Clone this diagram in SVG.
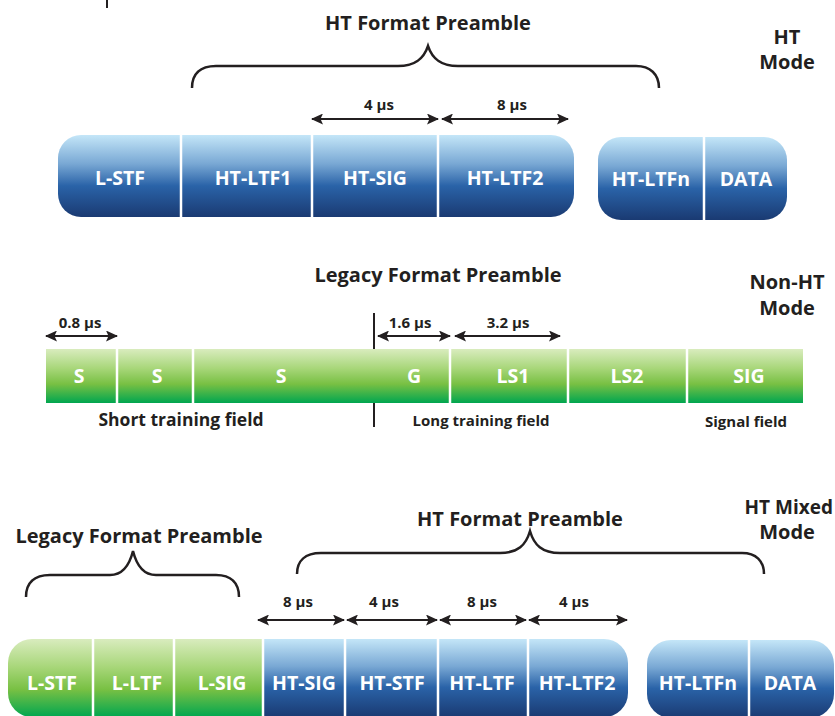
<svg xmlns="http://www.w3.org/2000/svg" width="835" height="716" viewBox="0 0 835 716">
<defs>
<linearGradient id="blue" x1="0" y1="0" x2="0" y2="1">
<stop offset="0" stop-color="#c4e6f8"/>
<stop offset="0.35" stop-color="#79a8d4"/>
<stop offset="0.62" stop-color="#2a63a8"/>
<stop offset="1" stop-color="#1a3a72"/>
</linearGradient>
<linearGradient id="green" x1="0" y1="0" x2="0" y2="1">
<stop offset="0" stop-color="#d9ecbe"/>
<stop offset="0.35" stop-color="#a9d77b"/>
<stop offset="0.65" stop-color="#78c043"/>
<stop offset="1" stop-color="#00a650"/>
</linearGradient>
<marker id="ah" markerWidth="12" markerHeight="11" refX="11" refY="5.5" orient="auto-start-reverse" markerUnits="userSpaceOnUse">
<path d="M0,0 L12,5.5 L0,11 L2.5,5.5 Z" fill="#231f20"/>
</marker>
<style>
text{font-family:"Open Sans","Liberation Sans",Arial,sans-serif;font-weight:700;text-anchor:middle}
.t{fill:#231f20;font-size:20px}
.m{fill:#231f20;font-size:15px}
.w{fill:#ffffff;font-size:19.5px}
.f{fill:#231f20;font-size:15px}
.div{stroke:#ffffff;stroke-width:2.5}
.arr{stroke:#231f20;stroke-width:2;fill:none;marker-start:url(#ah);marker-end:url(#ah)}
.br{stroke:#231f20;stroke-width:2.5;fill:none}
.vl{stroke:#231f20;stroke-width:2}
</style>
</defs>
<line x1="107" y1="0" x2="107" y2="8" class="vl"/>

<!-- HT Mode -->
<text class="t" x="428" y="30">HT Format Preamble</text>
<text class="t" x="787" y="44">HT</text>
<text class="t" x="787" y="69">Mode</text>
<g id="connectors">
<path class="br" d="M192,88 C192,74 200,66 216,66 L398,66 C416,66 424,58 428,46 C432,58 440,66 458,66 L636,66 C650,66 659,74 659,88"/>
<line class="arr" x1="312" y1="119" x2="438" y2="119"/>
<line class="arr" x1="442" y1="119" x2="568" y2="119"/>
<line class="arr" x1="46" y1="336" x2="117" y2="336"/>
<line class="arr" x1="378" y1="336" x2="450" y2="336"/>
<line class="arr" x1="455" y1="336" x2="560" y2="336"/>
<line class="vl" x1="374" y1="313" x2="374" y2="427"/>
<path class="br" d="M26,597 C26,583 34,575 50,575 L110,575 C124,575 130,563 133,551 C136,563 142,575 156,575 L216,575 C231,575 239,583 239,597"/>
<path class="br" d="M297,574 C297,561 305,553 321,553 L500,553 C518,553 526,545 530,531 C534,545 542,553 560,553 L742,553 C756,553 764,561 764,574"/>
<line class="arr" x1="258" y1="620" x2="344" y2="620"/>
<line class="arr" x1="347" y1="620" x2="437" y2="620"/>
<line class="arr" x1="440" y1="620" x2="526" y2="620"/>
<line class="arr" x1="529" y1="620" x2="627" y2="620"/>
</g>
<text class="m" x="379" y="110">4 µs</text>
<text class="m" x="512" y="110">8 µs</text>

<g id="ht-main">
<rect x="58" y="135" width="516" height="82" rx="23" fill="url(#blue)"/>
<line class="div" x1="181" y1="135" x2="181" y2="217"/>
<line class="div" x1="312" y1="135" x2="312" y2="217"/>
<line class="div" x1="438" y1="135" x2="438" y2="217"/>
<text class="w" x="120" y="185">L-STF</text>
<text class="w" x="253" y="185">HT-LTF1</text>
<text class="w" x="375" y="185">HT-SIG</text>
<text class="w" x="505" y="185">HT-LTF2</text>
</g>
<g id="ht-data">
<rect x="598" y="137" width="189" height="83" rx="23" fill="url(#blue)"/>
<line class="div" x1="704" y1="137" x2="704" y2="220"/>
<text class="w" x="651" y="186">HT-LTFn</text>
<text class="w" x="746" y="186">DATA</text>
</g>

<!-- Non-HT Mode -->
<text class="t" x="438" y="282">Legacy Format Preamble</text>
<text class="t" x="787" y="289">Non-HT</text>
<text class="t" x="787" y="315">Mode</text>
<text class="m" x="80" y="328">0.8 µs</text>
<text class="m" x="410" y="328">1.6 µs</text>
<text class="m" x="508" y="328">3.2 µs</text>
<g id="nonht-bar">
<rect x="46" y="349" width="757" height="54" fill="url(#green)"/>
<line class="div" x1="117" y1="349" x2="117" y2="403"/>
<line class="div" x1="193" y1="349" x2="193" y2="403"/>
<line class="div" x1="450" y1="349" x2="450" y2="403"/>
<line class="div" x1="568" y1="349" x2="568" y2="403"/>
<line class="div" x1="687" y1="349" x2="687" y2="403"/>
<text class="w" x="79" y="383">S</text>
<text class="w" x="157" y="383">S</text>
<text class="w" x="281" y="383">S</text>
<text class="w" x="414" y="383">G</text>
<text class="w" x="513" y="383">LS1</text>
<text class="w" x="627" y="383">LS2</text>
<text class="w" x="749" y="383">SIG</text>
</g>
<text class="f" x="181" y="426" style="font-size:17.5px">Short training field</text>
<text class="f" x="481" y="426">Long training field</text>
<text class="f" x="746" y="427">Signal field</text>

<!-- HT Mixed Mode -->
<text class="t" x="139" y="543">Legacy Format Preamble</text>
<text class="t" x="520" y="526">HT Format Preamble</text>
<text class="t" x="833" y="514" style="text-anchor:end;font-size:19px">HT Mixed</text>
<text class="t" x="787" y="539">Mode</text>
<text class="m" x="298" y="607">8 µs</text>
<text class="m" x="384" y="607">4 µs</text>
<text class="m" x="482" y="607">8 µs</text>
<text class="m" x="574" y="607">4 µs</text>
<g id="mixed-main">
<path d="M8,663 A24,24 0 0 1 32,639 H263 V717 H32 A24,24 0 0 1 8,693 Z" fill="url(#green)"/>
<path d="M263,639 H604 A24,24 0 0 1 628,663 V693 A24,24 0 0 1 604,717 H263 Z" fill="url(#blue)"/>
<line class="div" x1="93" y1="639" x2="93" y2="717"/>
<line class="div" x1="174" y1="639" x2="174" y2="717"/>
<line class="div" x1="263" y1="639" x2="263" y2="717"/>
<line class="div" x1="345" y1="639" x2="345" y2="717"/>
<line class="div" x1="438" y1="639" x2="438" y2="717"/>
<line class="div" x1="528" y1="639" x2="528" y2="717"/>
<text class="w" x="52" y="690">L-STF</text>
<text class="w" x="137" y="690">L-LTF</text>
<text class="w" x="222" y="690">L-SIG</text>
<text class="w" x="304" y="690">HT-SIG</text>
<text class="w" x="392" y="690">HT-STF</text>
<text class="w" x="482" y="690">HT-LTF</text>
<text class="w" x="577" y="690">HT-LTF2</text>
</g>
<g id="mixed-data">
<rect x="647" y="640" width="187" height="78" rx="24" fill="url(#blue)"/>
<line class="div" x1="749" y1="640" x2="749" y2="718"/>
<text class="w" x="698" y="690">HT-LTFn</text>
<text class="w" x="790" y="690">DATA</text>
</g>
</svg>
